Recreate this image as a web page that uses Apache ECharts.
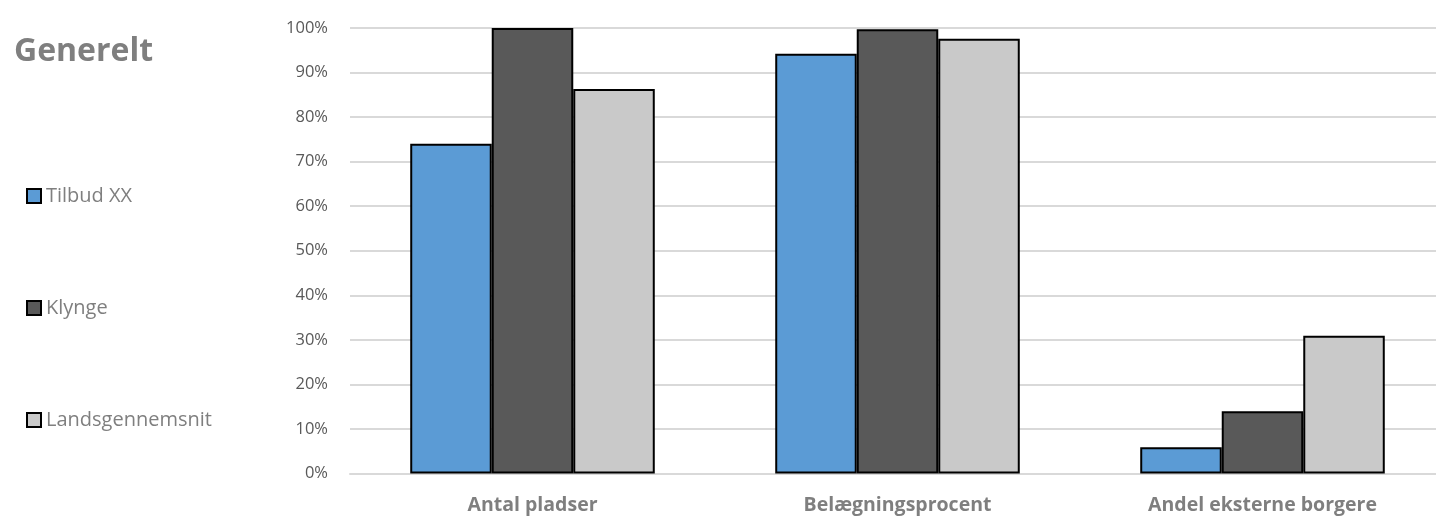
<!DOCTYPE html>
<html><head><meta charset="utf-8">
<script src="https://cdn.jsdelivr.net/npm/echarts@6/dist/echarts.min.js"></script>
<style>html,body{margin:0;padding:0;background:#fff}#c{width:1436px;height:518px}</style>
</head><body><div id="c"></div>
<script>
const categories = ['Antal pladser', 'Belægningsprocent', 'Andel eksterne borgere'];
const seriesNames = ['Tilbud XX', 'Klynge', 'Landsgennemsnit'];
const tilbudXX = [74.0, 94.2, 5.9];
const klynge = [100, 99.7, 14.0];
const landsgennemsnit = [86.3, 97.6, 30.9];
const yTicks = [0, 10, 20, 30, 40, 50, 60, 70, 80, 90, 100];
const colors = ['#5b9bd5', '#595959', '#c9c9c9'];
const values = [tilbudXX, klynge, landsgennemsnit];
const font = '"Open Sans", "Noto Sans", sans-serif';

const chart = echarts.init(document.getElementById('c'), null, {renderer: 'canvas'});
chart.setOption({
  animation: false,
  title: {
    text: 'Generelt', left: 9, top: 31,
    textStyle: {fontFamily: font, fontSize: 32, fontWeight: 'bold', color: '#7f7f7f'}
  },
  legend: {
    orient: 'vertical', left: 26, top: 186, itemGap: 92, padding: 0,
    itemWidth: 14, itemHeight: 14, icon: 'rect',
    data: seriesNames,
    textStyle: {fontFamily: font, fontSize: 20, lineHeight: 14, color: '#7f7f7f', padding: [0, 0, 0, 0]}
  },
  grid: {left: 350, width: 1095, top: 28, bottom: 44.5, containLabel: false, outerBoundsMode: 'none'},
  xAxis: {
    type: 'category', data: categories,
    axisLine: {lineStyle: {color: '#d9d9d9', width: 2}},
    axisTick: {show: false},
    axisLabel: {fontFamily: font, fontSize: 19.5, fontWeight: 'bold', color: '#7f7f7f', margin: 22}
  },
  yAxis: {
    type: 'value', min: 0, max: 100, interval: 10,
    axisLine: {show: false}, axisTick: {show: false},
    splitLine: {lineStyle: {color: '#d9d9d9', width: 2}},
    axisLabel: {fontFamily: font, fontSize: 16.5, color: '#595959', margin: 22,
      formatter: v => yTicks.includes(v) ? v + '%' : ''}
  },
  series: seriesNames.map((n, i) => ({
    name: n, type: 'bar', data: values[i],
    barGap: '0%', barCategoryGap: '33%',
    itemStyle: {color: colors[i], borderColor: '#000', borderWidth: 2}
  }))
});
</script></body></html>
